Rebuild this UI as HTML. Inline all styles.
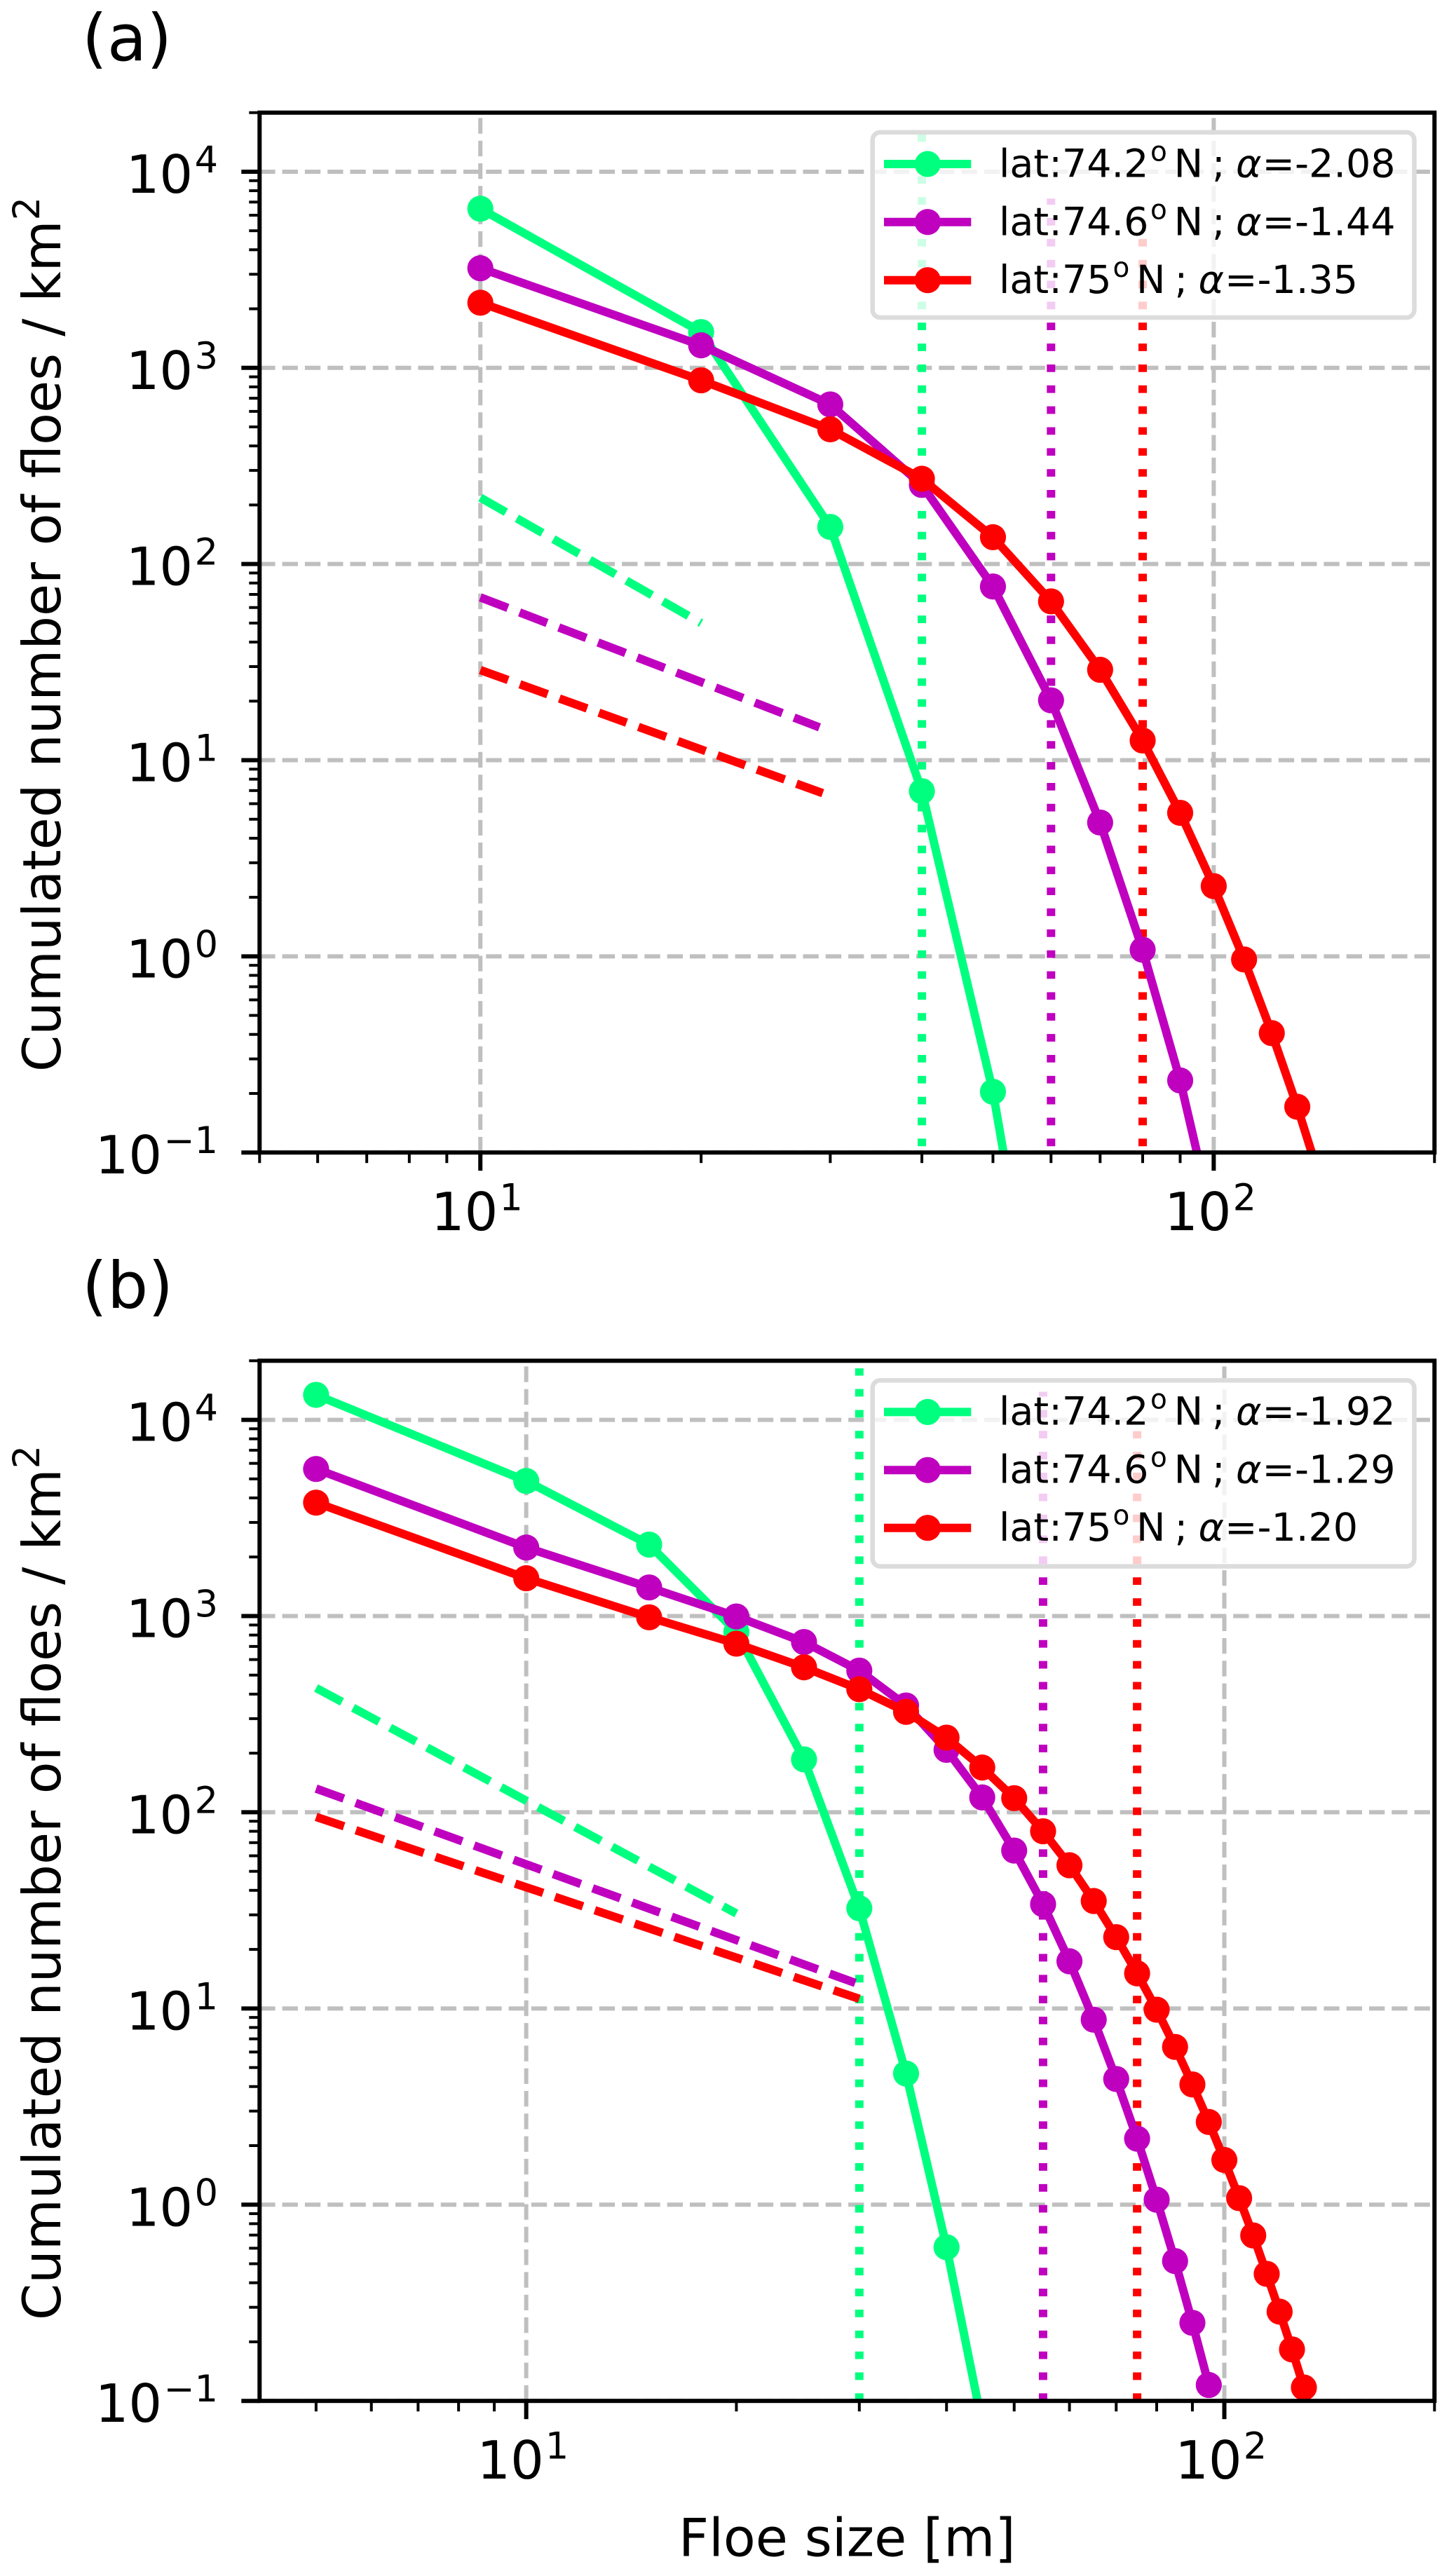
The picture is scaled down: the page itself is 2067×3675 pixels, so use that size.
<!DOCTYPE html>
<html lang="en">
<head>
<meta charset="utf-8">
<title>Cumulated number of floes vs floe size</title>
<style>
html,body{margin:0;padding:0;background:#fff;}
svg{display:block;}
text{font-family:"DejaVu Sans","Liberation Sans",sans-serif;fill:#000;}
.leg{font-size:55.5px;}
.sup{font-size:38.9px;}
.it{font-style:italic;}
</style>
</head>
<body>
<svg xmlns="http://www.w3.org/2000/svg" width="2067" height="3675" viewBox="0 0 2067 3675">
  <defs>
    <clipPath id="clip-a"><rect x="370.3" y="160.7" width="1676" height="1483.5"/></clipPath>
    <clipPath id="clip-b"><rect x="370.3" y="1941.3" width="1676" height="1483.9"/></clipPath>
  </defs>
  <rect x="0" y="0" width="2067" height="3675" fill="#fff"/>

  <g>
    <g id="plot-a" clip-path="url(#clip-a)"></g>
    <g id="frame-a"></g>
    <text x="117" y="86" font-size="92">(a)</text>
    <text transform="translate(86 905) rotate(-90)" text-anchor="middle" font-size="75">Cumulated number of floes / km<tspan font-size="52.5" dy="-30">2</tspan></text>
    <g>
      <rect x="1244.7" y="188.7" width="772.8" height="264.3" rx="11" ry="11" fill="#fff" fill-opacity="0.8" stroke="#dcdcdc" stroke-width="6.5"/>
      <g>
        <line x1="1261" x2="1385.3" y1="234" y2="234" stroke="#00ff7f" stroke-width="12"/>
        <circle cx="1323.3" cy="234" r="18.6" fill="#00ff7f"/>
        <text class="leg" y="252.7"><tspan x="1425">lat:74.2</tspan><tspan x="1641" dy="-23" class="sup">o</tspan><tspan x="1674.6" dy="23">N</tspan><tspan x="1729">;</tspan><tspan x="1763" class="it">α</tspan><tspan x="1800.5">=-2.08</tspan></text>
      </g>
      <g>
        <line x1="1261" x2="1385.3" y1="316.7" y2="316.7" stroke="#bf00bf" stroke-width="12"/>
        <circle cx="1323.3" cy="316.7" r="18.6" fill="#bf00bf"/>
        <text class="leg" y="335.3"><tspan x="1425">lat:74.6</tspan><tspan x="1641" dy="-23" class="sup">o</tspan><tspan x="1674.6" dy="23">N</tspan><tspan x="1729">;</tspan><tspan x="1763" class="it">α</tspan><tspan x="1800.5">=-1.44</tspan></text>
      </g>
      <g>
        <line x1="1261" x2="1385.3" y1="399.7" y2="399.7" stroke="#ff0000" stroke-width="12"/>
        <circle cx="1323.3" cy="399.7" r="18.6" fill="#ff0000"/>
        <text class="leg" y="418"><tspan x="1425">lat:75</tspan><tspan x="1587.5" dy="-23" class="sup">o</tspan><tspan x="1621" dy="23">N</tspan><tspan x="1675.5">;</tspan><tspan x="1709.5" class="it">α</tspan><tspan x="1747">=-1.35</tspan></text>
      </g>
    </g>
  </g>

  <g>
    <g id="plot-b" clip-path="url(#clip-b)"></g>
    <g id="frame-b"></g>
    <text x="117" y="1866" font-size="92">(b)</text>
    <text transform="translate(86 2686) rotate(-90)" text-anchor="middle" font-size="75">Cumulated number of floes / km<tspan font-size="52.5" dy="-30">2</tspan></text>
    <text x="1208.3" y="3646.7" text-anchor="middle" font-size="75">Floe size [m]</text>
    <g>
      <rect x="1244.7" y="1969.2" width="772.8" height="265.4" rx="11" ry="11" fill="#fff" fill-opacity="0.8" stroke="#dcdcdc" stroke-width="6.5"/>
      <g>
        <line x1="1261" x2="1385.3" y1="2014.4" y2="2014.4" stroke="#00ff7f" stroke-width="12"/>
        <circle cx="1323.3" cy="2014.4" r="18.6" fill="#00ff7f"/>
        <text class="leg" y="2032.7"><tspan x="1425">lat:74.2</tspan><tspan x="1641" dy="-23" class="sup">o</tspan><tspan x="1674.6" dy="23">N</tspan><tspan x="1729">;</tspan><tspan x="1763" class="it">α</tspan><tspan x="1800.5">=-1.92</tspan></text>
      </g>
      <g>
        <line x1="1261" x2="1385.3" y1="2097.2" y2="2097.2" stroke="#bf00bf" stroke-width="12"/>
        <circle cx="1323.3" cy="2097.2" r="18.6" fill="#bf00bf"/>
        <text class="leg" y="2115.3"><tspan x="1425">lat:74.6</tspan><tspan x="1641" dy="-23" class="sup">o</tspan><tspan x="1674.6" dy="23">N</tspan><tspan x="1729">;</tspan><tspan x="1763" class="it">α</tspan><tspan x="1800.5">=-1.29</tspan></text>
      </g>
      <g>
        <line x1="1261" x2="1385.3" y1="2179.7" y2="2179.7" stroke="#ff0000" stroke-width="12"/>
        <circle cx="1323.3" cy="2179.7" r="18.6" fill="#ff0000"/>
        <text class="leg" y="2198"><tspan x="1425">lat:75</tspan><tspan x="1587.5" dy="-23" class="sup">o</tspan><tspan x="1621" dy="23">N</tspan><tspan x="1675.5">;</tspan><tspan x="1709.5" class="it">α</tspan><tspan x="1747">=-1.20</tspan></text>
      </g>
    </g>
  </g>
</svg>

<script>
// ---- Panel (a) data ----
const aGreenSizes = [10, 20, 30, 40, 50, 60];
const aGreenCounts = [6474, 1522, 154.6, 6.95, 0.204, 0.004];
const aPurpleSizes = [10, 20, 30, 40, 50, 60, 70, 80, 90, 100];
const aPurpleCounts = [3221, 1303, 651, 253, 76.8, 20.2, 4.81, 1.08, 0.233, 0.043];
const aRedSizes = [10, 20, 30, 40, 50, 60, 70, 80, 90, 100, 110, 120, 130, 140];
const aRedCounts = [2148, 864, 486, 272, 137, 64.5, 28.9, 12.6, 5.39, 2.28, 0.964, 0.406, 0.171, 0.071];
const aGreenFitSizes = [10, 20];
const aGreenFitCounts = [218, 50];
const aPurpleFitSizes = [10, 29];
const aPurpleFitCounts = [67.6, 14.7];
const aRedFitSizes = [10, 29.3];
const aRedFitCounts = [28.8, 6.79];
const aCutoffSizes = [40, 60, 80];
const aCutoffTops = [15500, 7300, 5350];

// ---- Panel (b) data ----
const bGreenSizes = [5, 10, 15, 20, 25, 30, 35, 40, 45];
const bGreenCounts = [13400, 4880, 2312, 830, 186, 32.4, 4.66, 0.607, 0.076];
const bPurpleSizes = [5, 10, 15, 20, 25, 30, 35, 40, 45, 50, 55, 60, 65, 70, 75, 80, 85, 90, 95];
const bPurpleCounts = [5617, 2234, 1399, 995, 737, 527, 350, 208, 119, 63.8, 34, 17.4, 8.77, 4.37, 2.17, 1.06, 0.516, 0.25, 0.1205];
const bRedSizes = [5, 10, 15, 20, 25, 30, 35, 40, 45, 50, 55, 60, 65, 70, 75, 80, 85, 90, 95, 100, 105, 110, 115, 120, 125, 130];
const bRedCounts = [3785, 1559, 985, 723, 548, 424, 325, 240, 169, 118, 80, 53.7, 35.3, 23.1, 15.1, 9.86, 6.37, 4.1, 2.64, 1.69, 1.08, 0.697, 0.444, 0.285, 0.183, 0.117];
const bGreenFitSizes = [5, 20];
const bGreenFitCounts = [430, 30.5];
const bPurpleFitSizes = [5, 29.6];
const bPurpleFitCounts = [132, 13.5];
const bRedFitSizes = [5, 30];
const bRedFitCounts = [94.7, 11.2];
const bCutoffSizes = [30, 55, 75];
const bCutoffTops = [18300, 13900, 8750];

// ---- Shared axis data ----
const xTickExponents = [1, 2];
const yTickExponents = [-1, 0, 1, 2, 3, 4];
const aXLimits = [5, 200];
const bXLimits = [4.15, 200];
const yLimits = [0.1, 20000];
const seriesNames = ['74-2', '74-6', '75'];

const GREEN = '#00ff7f';
const PURPLE = '#bf00bf';
const RED = '#ff0000';
const seriesColors = [GREEN, PURPLE, RED];
const SVGNS = 'http://www.w3.org/2000/svg';

function shape(parent, tag, name) {
  const el = document.createElementNS(SVGNS, tag);
  
  
  parent.appendChild(el);
  return el;
}

function makeAxes(xlim, ylim, left, right, top, bottom) {
  const lx0 = Math.log10(xlim[0]), lx1 = Math.log10(xlim[1]);
  const ly0 = Math.log10(ylim[0]), ly1 = Math.log10(ylim[1]);
  return {
    left: left, right: right, top: top, bottom: bottom, xlim: xlim, ylim: ylim,
    x: function (v) { return left + (Math.log10(v) - lx0) / (lx1 - lx0) * (right - left); },
    y: function (v) { return bottom - (Math.log10(v) - ly0) / (ly1 - ly0) * (bottom - top); }
  };
}

function pathFor(ax, sizes, counts) {
  return sizes.map(function (s, i) {
    return (i ? 'L' : 'M') + ax.x(s).toFixed(2) + ' ' + ax.y(counts[i]).toFixed(2);
  }).join(' ');
}

function drawGrid(plot, ax, id) {
  xTickExponents.forEach(function (e) {
    const l = shape(plot, 'line', 'grid-line-x-' + id + '-1e' + e);
    const x = ax.x(Math.pow(10, e));
    l.setAttribute('x1', x);
    l.setAttribute('x2', x);
    l.setAttribute('y1', ax.bottom);
    l.setAttribute('y2', ax.top);
    l.setAttribute('stroke', '#bfbfbf');
    l.setAttribute('stroke-width', '6');
    l.setAttribute('stroke-dasharray', '22.3 10');
  });
  yTickExponents.forEach(function (e) {
    const l = shape(plot, 'line', 'grid-line-y-' + id + '-1e' + e);
    const y = ax.y(Math.pow(10, e));
    l.setAttribute('x1', ax.left);
    l.setAttribute('x2', ax.right);
    l.setAttribute('y1', y);
    l.setAttribute('y2', y);
    l.setAttribute('stroke', '#bfbfbf');
    l.setAttribute('stroke-width', '6');
    l.setAttribute('stroke-dasharray', '22.3 10');
  });
}

function drawCutoffs(plot, ax, id, sizes, tops, phase) {
  sizes.forEach(function (s, i) {
    const l = shape(plot, 'line', 'cutoff-line-' + id + '-' + seriesNames[i]);
    const x = ax.x(s);
    l.setAttribute('x1', x);
    l.setAttribute('x2', x);
    l.setAttribute('y1', ax.bottom);
    l.setAttribute('y2', ax.y(tops[i]));
    l.setAttribute('stroke', seriesColors[i]);
    l.setAttribute('stroke-width', '12');
    l.setAttribute('stroke-dasharray', '10.8 19.05');
    l.setAttribute('stroke-dashoffset', phase);
  });
}

function drawFit(plot, ax, id, idx, sizes, counts) {
  const p = shape(plot, 'path', 'power-law-fit-' + id + '-' + seriesNames[idx]);
  p.setAttribute('d', pathFor(ax, sizes, counts));
  p.setAttribute('fill', 'none');
  p.setAttribute('stroke', seriesColors[idx]);
  p.setAttribute('stroke-width', '12');
  p.setAttribute('stroke-dasharray', '42 17.9');
}

function drawSeries(plot, ax, id, idx, sizes, counts) {
  const g = shape(plot, 'g', 'series-' + id + '-' + seriesNames[idx]);
  const p = shape(g, 'path', 'series-line-' + id + '-' + seriesNames[idx]);
  p.setAttribute('d', pathFor(ax, sizes, counts));
  p.setAttribute('fill', 'none');
  p.setAttribute('stroke', seriesColors[idx]);
  p.setAttribute('stroke-width', '12');
  p.setAttribute('stroke-linejoin', 'round');
  sizes.forEach(function (s, i) {
    const c = shape(g, 'circle', 'point-' + id + '-' + seriesNames[idx] + '-size-' + s);
    c.setAttribute('cx', ax.x(s));
    c.setAttribute('cy', ax.y(counts[i]));
    c.setAttribute('r', '18.6');
    c.setAttribute('fill', seriesColors[idx]);
  });
}

function tickLine(frame, name, x1, y1, x2, y2, w) {
  const l = shape(frame, 'line', name);
  l.setAttribute('x1', x1);
  l.setAttribute('y1', y1);
  l.setAttribute('x2', x2);
  l.setAttribute('y2', y2);
  l.setAttribute('stroke', '#000');
  l.setAttribute('stroke-width', w);
}

function tickText(frame, name, str, x, y, size) {
  const t = shape(frame, 'text', name);
  t.setAttribute('x', x);
  t.setAttribute('y', y);
  t.setAttribute('font-size', size);
  t.textContent = str;
}

function drawFrame(frame, ax, id) {
  const eps = 1e-6;
  for (let e = -2; e <= 5; e++) {
    const d = Math.pow(10, e);
    for (let m = 2; m <= 9; m++) {
      const v = m * d;
      if (v >= ax.xlim[0] * (1 - eps) && v <= ax.xlim[1] * (1 + eps)) {
        tickLine(frame, 'x-minor-tick-' + id, ax.x(v), ax.bottom, ax.x(v), ax.bottom + 15, 4);
      }
      if (v >= ax.ylim[0] * (1 - eps) && v <= ax.ylim[1] * (1 + eps)) {
        tickLine(frame, 'y-minor-tick-' + id, ax.left, ax.y(v), ax.left - 15, ax.y(v), 4);
      }
    }
  }
  xTickExponents.forEach(function (e) {
    const x = ax.x(Math.pow(10, e));
    tickLine(frame, 'x-major-tick-' + id, x, ax.bottom, x, ax.bottom + 26, 6);
    tickText(frame, 'x-tick-label-' + id, '10', x - 70.3, ax.bottom + 110.8, 75);
    tickText(frame, 'x-tick-exponent-' + id, String(e), x + 27.2, ax.bottom + 82.3, 52.5);
  });
  yTickExponents.forEach(function (e) {
    const y = ax.y(Math.pow(10, e));
    tickLine(frame, 'y-major-tick-' + id, ax.left, y, ax.left - 26, y, 6);
    const label = e < 0 ? '\u2212' + (-e) : String(e);
    const expWidth = (e < 0 ? 77.4 : 33.4);
    tickText(frame, 'y-tick-label-' + id, '10', 311 - expWidth - 2.5 - 95.4, y + 30, 75);
    tickText(frame, 'y-tick-exponent-' + id, label, 311 - expWidth, y + 1, 52.5);
  });
  const r = shape(frame, 'rect', 'axes-spines-' + id);
  r.setAttribute('x', ax.left);
  r.setAttribute('y', ax.top);
  r.setAttribute('width', ax.right - ax.left);
  r.setAttribute('height', ax.bottom - ax.top);
  r.setAttribute('fill', 'none');
  r.setAttribute('stroke', '#000');
  r.setAttribute('stroke-width', '6');
}

const axesA = makeAxes(aXLimits, yLimits, 370.3, 2046.3, 160.7, 1644.2);
const axesB = makeAxes(bXLimits, yLimits, 370.3, 2046.3, 1941.3, 3425.2);
const plotA = document.getElementById('plot-a');
const plotB = document.getElementById('plot-b');

drawGrid(plotA, axesA, 'a');
drawCutoffs(plotA, axesA, 'a', aCutoffSizes, aCutoffTops, 20.85);
drawFit(plotA, axesA, 'a', 0, aGreenFitSizes, aGreenFitCounts);
drawFit(plotA, axesA, 'a', 1, aPurpleFitSizes, aPurpleFitCounts);
drawFit(plotA, axesA, 'a', 2, aRedFitSizes, aRedFitCounts);
drawSeries(plotA, axesA, 'a', 0, aGreenSizes, aGreenCounts);
drawSeries(plotA, axesA, 'a', 1, aPurpleSizes, aPurpleCounts);
drawSeries(plotA, axesA, 'a', 2, aRedSizes, aRedCounts);
drawFrame(document.getElementById('frame-a'), axesA, 'a');

drawGrid(plotB, axesB, 'b');
drawCutoffs(plotB, axesB, 'b', bCutoffSizes, bCutoffTops, 0);
drawFit(plotB, axesB, 'b', 0, bGreenFitSizes, bGreenFitCounts);
drawFit(plotB, axesB, 'b', 1, bPurpleFitSizes, bPurpleFitCounts);
drawFit(plotB, axesB, 'b', 2, bRedFitSizes, bRedFitCounts);
drawSeries(plotB, axesB, 'b', 0, bGreenSizes, bGreenCounts);
drawSeries(plotB, axesB, 'b', 1, bPurpleSizes, bPurpleCounts);
drawSeries(plotB, axesB, 'b', 2, bRedSizes, bRedCounts);
drawFrame(document.getElementById('frame-b'), axesB, 'b');
</script>
</body>
</html>
